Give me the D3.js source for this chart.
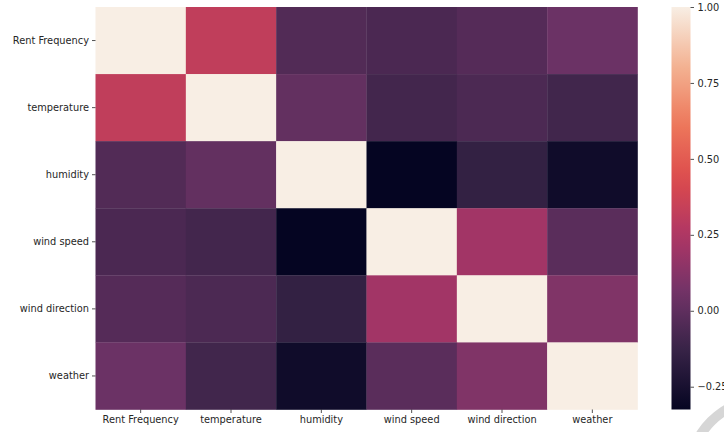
<!DOCTYPE html>
<html>
<head>
<meta charset="utf-8">
<script src="https://cdn.jsdelivr.net/npm/d3@7"></script>
<style>
  body { margin: 0; background: #ffffff; }
  text { font-family: "DejaVu Sans", sans-serif; fill: #262626; }
</style>
</head>
<body>
<svg id="chart" width="724" height="432"></svg>
<script>

// variable names, used for both rows and columns
let labels = ["Rent Frequency", "temperature", "humidity", "wind speed", "wind direction", "weather"];

// correlation matrix, one row per variable
let row_rent     = [ 1.000,  0.320, -0.040, -0.065, -0.030,  0.040];
let row_temp     = [ 0.320,  1.000,  0.015, -0.090, -0.060, -0.095];
let row_humidity = [-0.040,  0.015,  1.000, -0.325, -0.145, -0.280];
let row_wspeed   = [-0.065, -0.090, -0.325,  1.000,  0.210, -0.015];
let row_wdir     = [-0.030, -0.060, -0.145,  0.210,  1.000,  0.105];
let row_weather  = [ 0.040, -0.095, -0.280, -0.015,  0.105,  1.000];
let matrix = [row_rent, row_temp, row_humidity, row_wspeed, row_wdir, row_weather];

// colorbar ticks
let cbar_ticks = [-0.25, 0, 0.25, 0.5, 0.75, 1.0];

// rocket-like palette stops
let palette = ["#050522", "#352245", "#6f3367", "#ad3566", "#dc4a4c", "#ee7a5c", "#f3b494", "#f8eee4"];

let chart = d3.select("#chart");

let m_left = 95.5, m_right = 637.5, m_top = 7, m_bottom = 409.5;
let cb_left = 671.5, cb_width = 19;
let font_size = "9.8px";

// flatten to cells
let cells = [];
matrix.forEach(function(row, i){
	row.forEach(function(v, j){
		cells.push({ r: labels[i], c: labels[j], value: v });
	});
});

let vmin = d3.min(cells, function(d){ return d.value; });
let vmax = d3.max(cells, function(d){ return d.value; });

// color scale
let color = d3.scaleLinear()
		.domain(palette.map(function(p, i){ return vmin + (vmax - vmin) * i / (palette.length - 1); }))
		.range(palette)
		.interpolate(d3.interpolateRgb)
		.clamp(true);

// position scales
let x = d3.scaleBand().domain(labels).range([m_left, m_right]);
let y = d3.scaleBand().domain(labels).range([m_top, m_bottom]);

// heatmap cells
chart.append("g").selectAll("rect")
	.data(cells).enter()
		.append("rect")
			.attr("x", function(d){ return x(d.c); })
			.attr("y", function(d){ return y(d.r); })
			.attr("width", x.bandwidth() + 0.3)
			.attr("height", y.bandwidth() + 0.3)
			.attr("fill", function(d){ return color(d.value); });

// axes
let x_axis = chart.append("g")
		.attr("transform", "translate(0," + m_bottom + ")")
		.call(d3.axisBottom(x).tickSize(3.5).tickPadding(3));
let y_axis = chart.append("g")
		.attr("transform", "translate(" + m_left + ",0)")
		.call(d3.axisLeft(y).tickSize(3.5).tickPadding(3));

[x_axis, y_axis].forEach(function(a){
	a.select(".domain").remove();
	a.selectAll(".tick line").attr("stroke", "#262626").attr("stroke-width", 0.8);
	a.selectAll(".tick text")
		.attr("fill", "#262626")
		.style("font-family", "'DejaVu Sans', sans-serif")
		.style("font-size", font_size);
});

// colorbar
let cb = d3.scaleLinear().domain([vmin, vmax]).range([m_bottom, m_top]);
let defs = chart.append("defs");
let grad = defs.append("linearGradient")
		.attr("id", "cbar")
		.attr("x1", 0).attr("y1", 1).attr("x2", 0).attr("y2", 0);
grad.selectAll("stop")
	.data(d3.range(0, 1.0001, 0.05)).enter()
		.append("stop")
			.attr("offset", function(t){ return t; })
			.attr("stop-color", function(t){ return color(vmin + (vmax - vmin) * t); });

chart.append("rect")
	.attr("x", cb_left)
	.attr("y", m_top)
	.attr("width", cb_width)
	.attr("height", m_bottom - m_top)
	.attr("fill", "url(#cbar)");

let cb_axis = chart.append("g")
		.attr("transform", "translate(" + (cb_left + cb_width) + ",0)")
		.call(d3.axisRight(cb).tickValues(cbar_ticks).tickFormat(d3.format(".2f")).tickSize(3.5).tickPadding(3.5));
cb_axis.select(".domain").remove();
cb_axis.selectAll(".tick line").attr("stroke", "#262626").attr("stroke-width", 0.8);
cb_axis.selectAll(".tick text")
	.attr("fill", "#262626")
	.style("font-family", "'DejaVu Sans', sans-serif")
	.style("font-size", font_size);

// grey ring in the corner
chart.append("path")
	.attr("transform", "translate(765,475)")
	.attr("d", d3.arc()({ innerRadius: 71, outerRadius: 81, startAngle: -Math.PI / 2, endAngle: 0 }))
	.attr("fill", "#d6d6d6");

</script>
</body>
</html>
